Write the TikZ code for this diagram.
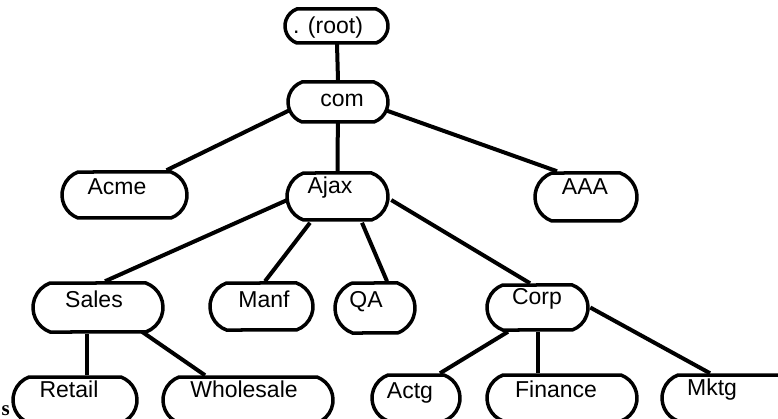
\documentclass[tikz,border=0pt]{standalone}
\usepackage{fontspec}
\setmainfont{Liberation Sans}
\newfontfamily\serifbold{Liberation Serif}
\usetikzlibrary{calc,shapes.misc}
\pgfdeclarelayer{bg}
\pgfsetlayers{bg,main}
\begin{document}
\begin{tikzpicture}[x=1pt,y=-1pt,
  box/.style={rounded rectangle, rounded rectangle arc length=140, draw, line width=3.5pt, fill=white, inner sep=0pt},
  lbl/.style={anchor=base, inner sep=0pt, font=\fontsize{23}{27}\selectfont},
  link/.style={line width=4pt}]
\useasboundingbox (0,0) rectangle (778,419);
\clip (0,0) rectangle (778,419);
% boxes
\node[box, minimum width=103pt, minimum height=34pt] (root) at (336.5,26) {};
\node[box, minimum width=100pt, minimum height=40pt] (com) at (338,102) {};
\node[box, minimum width=125pt, minimum height=46pt] (acme) at (124.5,195) {};
\node[box, minimum width=101pt, minimum height=47pt] (ajax) at (337.5,196.5) {};
\node[box, minimum width=102pt, minimum height=48pt] (aaa) at (586,197) {};
\node[box, minimum width=130pt, minimum height=49pt] (sales) at (98,307.5) {};
\node[box, minimum width=103pt, minimum height=47pt] (manf) at (261.5,306.5) {};
\node[box, minimum width=80pt, minimum height=50pt] (qa) at (375,308) {};
\node[box, minimum width=101pt, minimum height=45pt] (corp) at (537.5,307.5) {};
\node[box, minimum width=124pt, minimum height=46pt] (retail) at (75,400) {};
\node[box, minimum width=170pt, minimum height=46pt] (wholesale) at (248,400) {};
\node[box, minimum width=88pt, minimum height=46pt] (actg) at (416,398) {};
\node[box, minimum width=150pt, minimum height=46pt] (finance) at (562,398) {};
\node[box, minimum width=138pt, minimum height=46pt] (mktg) at (731,398) {};
% labels
\node[lbl] (root-t) at (328,34) {. (root)};
\node[lbl] (com-t) at (342,107) {com};
\node[lbl] (acme-t) at (117,195) {Acme};
\node[lbl] (ajax-t) at (330,194) {Ajax};
\node[lbl] (aaa-t) at (585,195) {AAA};
\node[lbl] (sales-t) at (94,307) {Sales};
\node[lbl] (manf-t) at (264,307) {Manf};
\node[lbl] (qa-t) at (366,307) {QA};
\node[lbl] (corp-t) at (537,305) {Corp};
\node[lbl] (retail-t) at (69,397) {Retail};
\node[lbl] (wholesale-t) at (244,397) {Wholesale};
\node[lbl] (actg-t) at (410,398) {Actg};
\node[lbl] (finance-t) at (556,397) {Finance};
\node[lbl] (mktg-t) at (712,395) {Mktg};
\node[anchor=base west, inner sep=0pt, font=\serifbold\bfseries\fontsize{21}{25}\selectfont] (s) at (1.5,415) {s};
% connectors
\begin{pgfonlayer}{bg}
\draw[link] (root.center) -- (com.north);
\draw[link] ($(com.center)+(-48,8)$) -- ($(acme.north)+(42,0)$);
\draw[link] (com.center) -- (ajax.north);
\draw[link] ($(com.center)+(47,8)$) -- ($(aaa.north)+(-29,0)$);
\draw[link] ($(ajax.west)+(2,3.5)$) -- ($(sales.north)+(7,0)$);
\draw[link] ($(ajax.south)+(-27.5,1)$) -- ($(manf.north)+(3.5,0)$);
\draw[link] ($(ajax.south)+(24.5,1)$) -- ($(qa.north)+(12,0)$);
\draw[link] ($(ajax.east)+(1.5,3.5)$) -- ($(corp.north)+(-7.5,0)$);
\draw[link] ($(sales.south)+(-11,0)$) -- ($(retail.north)+(12,0)$);
\draw[link] ($(sales.south)+(44,-2)$) -- ($(wholesale.north)+(-43,0)$);
\draw[link] ($(corp.south)+(-29.5,0)$) -- ($(actg.north)+(24,0)$);
\draw[link] (corp.south) -- (corp.south |- finance.north);
\draw[link] ($(corp.east)+(0.5,0)$) -- ($(mktg.north)+(-21,0)$);
\end{pgfonlayer}
\end{tikzpicture}
\end{document}
